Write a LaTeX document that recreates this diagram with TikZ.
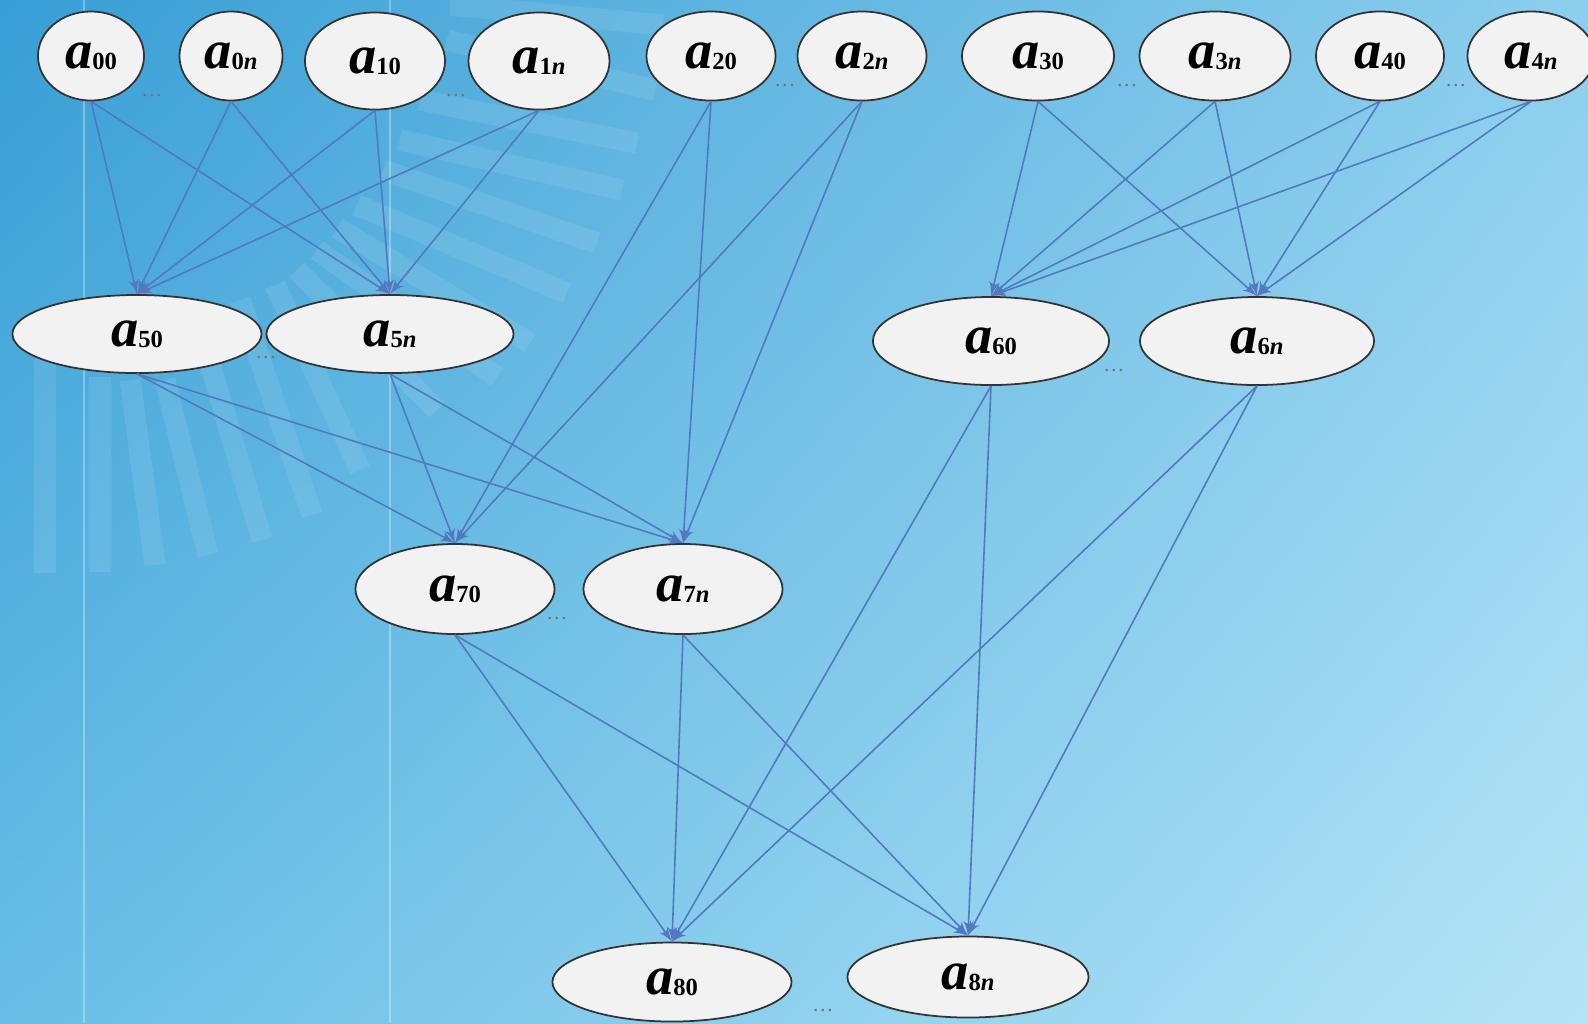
\documentclass[tikz,border=0pt]{standalone}
\usepackage{fontspec}
\setmainfont{Liberation Serif}
\usepackage{tikz}
\usetikzlibrary{shapes.geometric, arrows, shadings}
\definecolor{edgeblue}{HTML}{5279C0}
\definecolor{nodefill}{HTML}{F2F2F2}
\definecolor{bgul}{RGB}{56,158,213}
\definecolor{bgur}{RGB}{140,206,238}
\definecolor{bgll}{RGB}{104,190,230}
\definecolor{bglr}{RGB}{182,228,246}
\tikzset{
ell/.style 2 args={
  ellipse,
  draw=black!80,
  fill=nodefill,
  line width=0.5pt,
  inner sep=0pt,
  minimum width=#1,
  minimum height=#2
  },
line/.style={->,>=latex', draw=edgeblue, line width=0.45pt},
dots/.style={font=\fontsize{6}{6}\selectfont, text=black!55, inner sep=0pt}
}
\newcommand{\alab}[1]{{\fontsize{15.5}{15.5}\selectfont\textbf{\textit{a}}}\raisebox{-0.3pt}{\fontsize{7}{7}\selectfont\textbf{#1}}}
\newcommand{\nn}{\textit{n}}

\begin{document}
\begin{tikzpicture}[x=0.01cm, y=-0.01cm]
\useasboundingbox (0,0) rectangle (1588,1023);
% background
\shade[upper left=bgul, upper right=bgur, lower left=bgll, lower right=bglr]
  (0,0) rectangle (1588,1023);
\foreach \xa/\ya/\xb/\yb in {450/5/663/25, 447/40/655/90, 420/100/637/143,
    400/140/622/190, 383/170/597/243, 357/205/567/293, 337/228/530/343,
    317/250/497/377, 297/270/437/410, 275/285/360/470, 240/300/312/515,
    200/330/262/540, 165/380/208/555, 130/380/155/565, 100/377/100/572,
    45/350/45/573}
  \draw[white, opacity=0.09, line width=6pt] (\xa,\ya) -- (\xb,\yb);
\draw[white, opacity=0.3, line width=0.4pt] (84,0) -- (84,1023);
\draw[white, opacity=0.3, line width=0.4pt] (390,0) -- (390,1023);

% top row
\node[ell={1.06cm}{0.89cm}] (a00) at (91,56) {\alab{00}};
\node[ell={1.03cm}{0.89cm}] (a0n) at (231,56) {\alab{0\nn}};
\node[ell={1.40cm}{0.97cm}] (a10) at (375,61) {\alab{10}};
\node[ell={1.41cm}{0.97cm}] (a1n) at (539,61) {\alab{1\nn}};
\node[ell={1.29cm}{0.89cm}] (a20) at (711,56) {\alab{20}};
\node[ell={1.29cm}{0.89cm}] (a2n) at (862,56) {\alab{2\nn}};
\node[ell={1.52cm}{0.89cm}] (a30) at (1038,56) {\alab{30}};
\node[ell={1.51cm}{0.89cm}] (a3n) at (1215,56) {\alab{3\nn}};
\node[ell={1.28cm}{0.89cm}] (a40) at (1380,56) {\alab{40}};
\node[ell={1.27cm}{0.89cm}] (a4n) at (1531,56) {\alab{4\nn}};
% second row
\node[ell={2.49cm}{0.78cm}] (a50) at (137,334) {\alab{50}};
\node[ell={2.47cm}{0.78cm}] (a5n) at (390,334) {\alab{5\nn}};
\node[ell={2.36cm}{0.88cm}] (a60) at (991,341) {\alab{60}};
\node[ell={2.34cm}{0.88cm}] (a6n) at (1257,341) {\alab{6\nn}};
% third row
\node[ell={1.99cm}{0.90cm}] (a70) at (455,589) {\alab{70}};
\node[ell={1.99cm}{0.90cm}] (a7n) at (683,589) {\alab{7\nn}};
% bottom row
\node[ell={2.39cm}{0.79cm}] (a80) at (672,982) {\alab{80}};
\node[ell={2.41cm}{0.81cm}] (a8n) at (968,977) {\alab{8\nn}};

% dots between nodes
\node[dots] (d0) at (152,96) {\dots};
\node[dots] (d1) at (456,96) {\dots};
\node[dots] (d2) at (785,86) {\dots};
\node[dots] (d3) at (1127,86) {\dots};
\node[dots] (d4) at (1456,86) {\dots};
\node[dots] (d5) at (266,358) {\dots};
\node[dots] (d6) at (1114,371) {\dots};
\node[dots] (d7) at (557,619) {\dots};
\node[dots] (d8) at (823,1011) {\dots};

% connections
\foreach \s/\t in {a00/a50, a00/a5n, a0n/a50, a0n/a5n, a10/a50, a10/a5n,
    a1n/a50, a1n/a5n, a20/a70, a20/a7n, a2n/a70, a2n/a7n,
    a30/a60, a30/a6n, a3n/a60, a3n/a6n, a40/a60, a40/a6n, a4n/a60, a4n/a6n,
    a50/a70, a50/a7n, a5n/a70, a5n/a7n, a60/a80, a60/a8n, a6n/a80, a6n/a8n,
    a70/a80, a70/a8n, a7n/a80, a7n/a8n}
  \draw[line] (\s.south) -- (\t.north);
\end{tikzpicture}
\end{document}
